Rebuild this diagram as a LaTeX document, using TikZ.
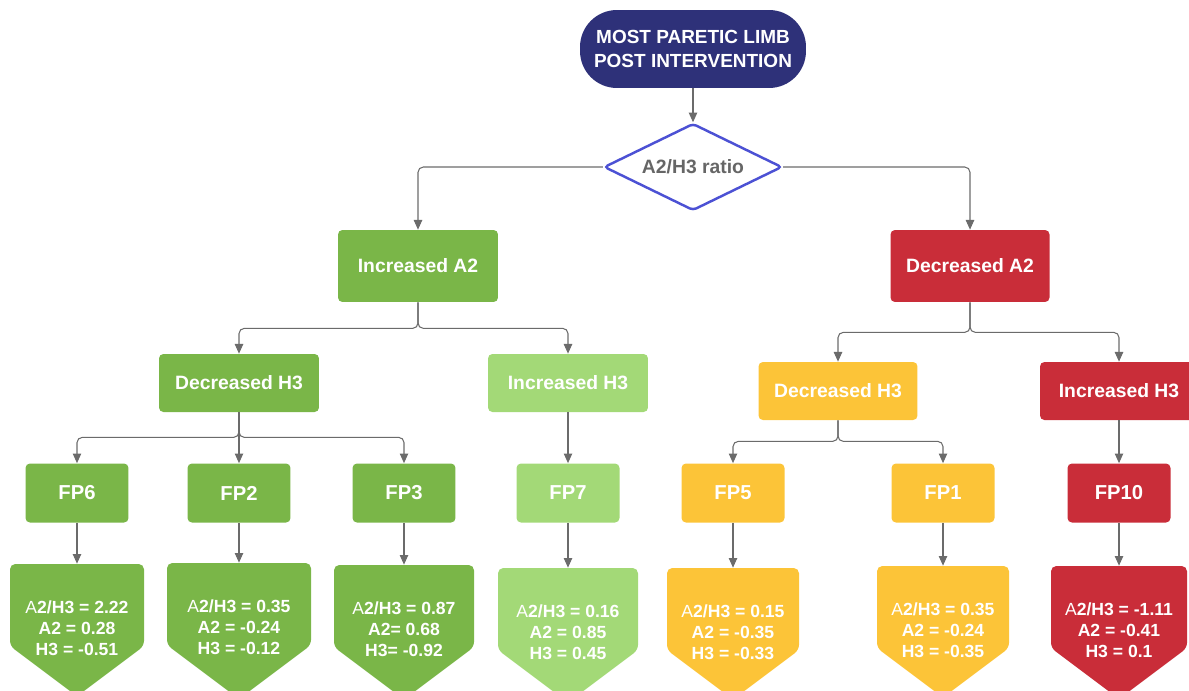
\documentclass[tikz,border=0pt]{standalone}
\usepackage{fontspec}
\setmainfont{Liberation Sans}
\usetikzlibrary{arrows.meta,shapes.geometric}
\definecolor{navyblue}{HTML}{2E3179}
\definecolor{ratioblue}{HTML}{4C51D4}
\definecolor{textgray}{HTML}{666666}
\definecolor{linkgray}{HTML}{6B6B6B}
\definecolor{ingreen}{HTML}{7AB648}
\definecolor{ligreen}{HTML}{A3D977}
\definecolor{yel}{HTML}{FCC438}
\definecolor{dered}{HTML}{C92D39}
\tikzset{
  box/.style={rectangle, rounded corners=2.5pt, inner sep=2pt, align=center, text=white, font=\bfseries\fontsize{11}{13}\selectfont},
  link/.style={draw=linkgray, line width=0.6pt, rounded corners=3pt, -{Triangle[length=5.5pt,width=4.8pt]}},
  values/.style={inner sep=0pt, minimum height=2.56cm, align=center, text=white, font=\bfseries\fontsize{10}{12}\selectfont}
}

\begin{document}
\begin{tikzpicture}[x=0.02cm,y=-0.02cm]
\useasboundingbox (0,0) rectangle (1189,690);
\clip (0,0) rectangle (1189,690);

\node[box, fill=navyblue, rounded corners=21pt, minimum width=4.52cm, minimum height=1.56cm, font=\bfseries\fontsize{10.8}{13.6}\selectfont] (start) at (693,49) {MOST PARETIC LIMB\\POST INTERVENTION};
\node[diamond, aspect=2.05, draw=ratioblue, line width=1.4pt, rounded corners=2pt, fill=white, minimum width=3.56cm, minimum height=1.74cm, inner sep=0pt, text=textgray, font=\bfseries\fontsize{11}{13}\selectfont] (ratio) at (693,167) {A2/H3 ratio};

\node[box, fill=ingreen, minimum width=3.2cm, minimum height=1.44cm] (incA2) at (418,266) {Increased A2};
\node[box, fill=dered, minimum width=3.18cm, minimum height=1.44cm] (decA2) at (970,266) {Decreased A2};

\node[box, fill=ingreen, minimum width=3.2cm, minimum height=1.16cm] (incdec) at (239,383) {Decreased H3};
\node[box, fill=ligreen, minimum width=3.2cm, minimum height=1.16cm] (incinc) at (568,383) {Increased H3};
\node[box, fill=yel, minimum width=3.18cm, minimum height=1.16cm] (decdec) at (838,391) {Decreased H3};
\node[box, fill=dered, minimum width=3.16cm, minimum height=1.16cm] (decinc) at (1119,391) {Increased H3};

\draw[link] (start) -- (ratio);
\draw[link] (ratio.west) -| (incA2);
\draw[link] (ratio.east) -| (decA2);
\draw[link] (incA2.south) -- ++(0,26) -| (incdec.north);
\draw[link] (incA2.south) -- ++(0,26) -| (incinc.north);
\draw[link] (decA2.south) -- ++(0,30) -| (decdec.north);
\draw[link] (decA2.south) -- ++(0,30) -| (decinc.north);

\foreach \n/\x/\c/\t/\w/\r/\a/\h in {
  6/77/ingreen/564/67/2.22/{A2 = 0.28}/{H3 = -0.51},
  2/239/ingreen/563/72/0.35/{A2 = -0.24}/{H3 = -0.12},
  3/404/ingreen/565/70/0.87/{A2= 0.68}/{H3= -0.92},
  7/568/ligreen/568/70/0.16/{A2 = 0.85}/{H3 = 0.45},
  5/733/yel/568/66/0.15/{A2 = -0.35}/{H3 = -0.33},
  1/943/yel/566/66/0.35/{A2 = -0.24}/{H3 = -0.35},
  10/1119/dered/566/68/-1.11/{A2 = -0.41}/{H3 = 0.1}}
{
  \node[box, fill=\c, minimum width=2.06cm, minimum height=1.18cm, font=\bfseries\fontsize{11.5}{13}\selectfont] (fp\n) at (\x,493) {FP\n};
  \fill[\c, rounded corners=3pt] (\x-\w,\t) -- (\x+\w,\t) -- (\x+\w,\t+82) -- (\x,\t+82+0.75*\w) -- (\x-\w,\t+82) -- cycle;
  \node[values] (val\n) at (\x,\t+64) {{\mdseries A}2/H3 = \r\\\a\\\h};
  \draw[link] (fp\n) -- (val\n);
}

\draw[link] (incdec.south) -- ++(0,25) -| (fp6.north);
\draw[link] (incdec) -- (fp2);
\draw[link] (incdec.south) -- ++(0,25) -| (fp3.north);
\draw[link] (incinc) -- (fp7);
\draw[link] (decdec.south) -- ++(0,21) -| (fp5.north);
\draw[link] (decdec.south) -- ++(0,21) -| (fp1.north);
\draw[link] (decinc) -- (fp10);
\end{tikzpicture}
\end{document}
